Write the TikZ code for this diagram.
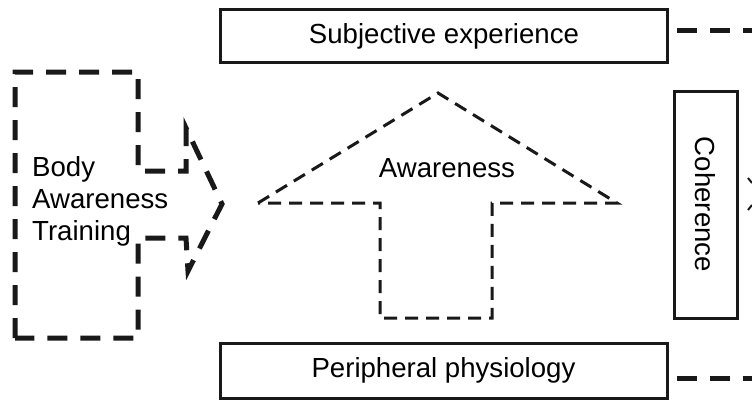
\documentclass[tikz,border=0pt]{standalone}
\usepackage{fontspec}
\setmainfont{Liberation Sans}
\begin{document}
\begin{tikzpicture}[x=1pt,y=-1pt,
  txt/.style={font=\fontsize{27.6}{32}\selectfont, inner sep=0pt},
  solidbox/.style={draw=black!90, line width=3pt, inner sep=0pt, font=\fontsize{27.6}{32}\selectfont},
  thickdash/.style={draw=black!90, line width=5pt, dash pattern=on 20pt off 13pt},
  thindash/.style={draw=black!90, line width=3pt, dash pattern=on 13pt off 8pt}]
\useasboundingbox (0,0) rectangle (752,400);
\fill[white] (0,0) rectangle (752,400);
% boxes
\node[solidbox, minimum width=447pt, minimum height=53pt] (subj) at (444,36) {Subjective experience};
\node[solidbox, minimum width=447pt, minimum height=55pt] (peri) at (443.5,370.5) {Peripheral physiology};
\node[solidbox, minimum width=63pt, minimum height=227pt] (coh) at (705.5,204.5) {};
\node[txt, rotate=-90] (cohtxt) at (coh.center) {Coherence};
% outgoing dashed lines
\coordinate (se) at (752,30);
\coordinate (pe) at (752,378);
\draw[thickdash, shorten <=8pt] (subj.east |- se) -- (se);
\draw[thickdash, shorten <=8pt] (peri.east |- pe) -- (pe);
% partial chevron at right edge
\draw[black!90, line width=2pt] (748,178) -- (752,183);
\draw[black!90, line width=2pt] (748,210) -- (752,205);
% body awareness training shape
\draw[thickdash, line join=miter] (15,338) -- (15,72) -- (138,72) -- (138,171) -- (186,171) -- (186,128)
  -- (222,204) -- (188,271) -- (186,238) -- (138,238) -- (138,338) -- cycle;
\node[txt, anchor=west, align=left] (bat) at (32,201) {Body\\Awareness\\Training};
% awareness arrow
\draw[thindash, line join=miter] (258,203) -- (438,93) -- (617,203) -- (492,203) -- (492,318) -- (380,318) -- (380,203) -- cycle;
\node[txt] (aw) at (447,168) {Awareness};
\end{tikzpicture}
\end{document}
